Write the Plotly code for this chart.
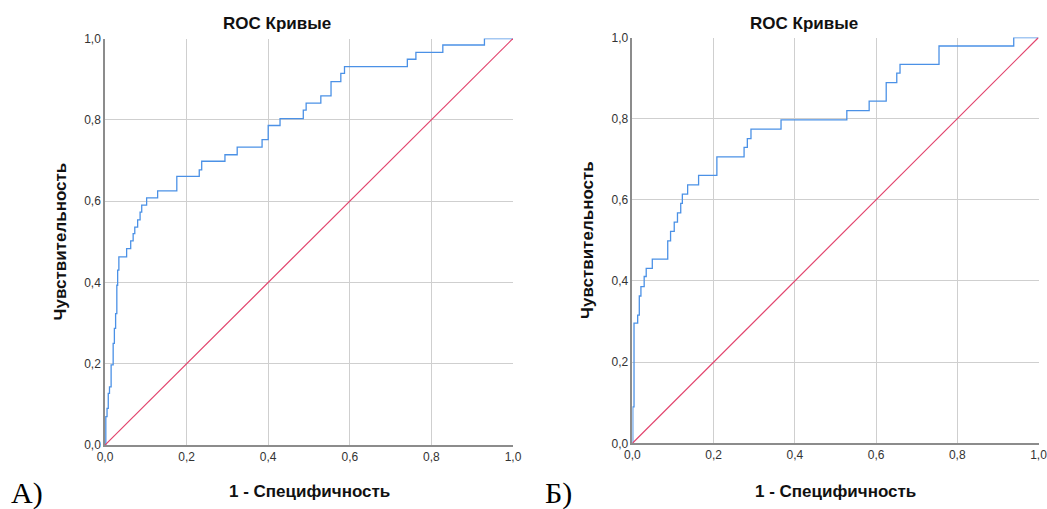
import plotly.graph_objects as go

# ---- data ----
left_fpr = [0.0, 0.002, 0.005, 0.008, 0.011, 0.015, 0.020, 0.023, 0.026, 0.029, 0.031, 0.034,
            0.053, 0.063, 0.069, 0.073, 0.080, 0.086, 0.090, 0.102, 0.129, 0.176, 0.231, 0.237,
            0.294, 0.324, 0.385, 0.400, 0.429, 0.486, 0.493, 0.529, 0.554, 0.578, 0.587, 0.741,
            0.762, 0.828, 0.930, 1.0]
left_tpr = [0.0, 0.070, 0.090, 0.127, 0.143, 0.197, 0.250, 0.287, 0.323, 0.393, 0.430, 0.463,
            0.483, 0.502, 0.520, 0.536, 0.554, 0.573, 0.590, 0.608, 0.625, 0.661, 0.677, 0.698,
            0.714, 0.733, 0.751, 0.786, 0.803, 0.824, 0.841, 0.859, 0.894, 0.914, 0.931, 0.949,
            0.966, 0.984, 1.0, 1.0]

right_fpr = [0.0, 0.001, 0.004, 0.013, 0.017, 0.021, 0.029, 0.034, 0.049, 0.087, 0.094, 0.103,
             0.111, 0.119, 0.123, 0.136, 0.163, 0.208, 0.275, 0.283, 0.292, 0.366, 0.528, 0.583,
             0.625, 0.651, 0.659, 0.755, 0.939, 1.0]
right_tpr = [0.0, 0.090, 0.296, 0.316, 0.363, 0.386, 0.411, 0.431, 0.454, 0.499, 0.522, 0.545,
             0.568, 0.591, 0.614, 0.637, 0.660, 0.706, 0.729, 0.751, 0.774, 0.797, 0.820, 0.843,
             0.889, 0.912, 0.934, 0.979, 1.0, 1.0]

ref_line = [0.0, 1.0]

tick_vals = [0.0, 0.2, 0.4, 0.6, 0.8, 1.0]
tick_text = ["0,0", "0,2", "0,4", "0,6", "0,8", "1,0"]

title_text = "ROC Кривые"
xtitle_text = "1 - Специфичность"
ytitle_text = "Чувствительность"
panel_labels = ["А)", "Б)"]

W, H = 1047, 509
def px(x):
    return x / W
def py(y):
    return 1 - y / H

BLUE = "#4b91e6"
RED = "#e2456e"
FONT = "Liberation Sans, Arial, sans-serif"

fig = go.Figure()
for xa, ya, fx, ty in [("x", "y", left_fpr, left_tpr), ("x2", "y2", right_fpr, right_tpr)]:
    fig.add_trace(go.Scatter(x=fx, y=ty, mode="lines", line=dict(color=BLUE, width=1.3, shape="hv"),
                             xaxis=xa, yaxis=ya, showlegend=False, hoverinfo="skip", cliponaxis=False))
    fig.add_trace(go.Scatter(x=ref_line, y=ref_line, mode="lines", line=dict(color=RED, width=1.2),
                             xaxis=xa, yaxis=ya, showlegend=False, hoverinfo="skip", cliponaxis=False))

axis_common = dict(range=[0, 1], tickvals=tick_vals, ticktext=tick_text, showgrid=True,
                   gridcolor="#cfcfcf", gridwidth=1, zeroline=False, showline=True,
                   linecolor="#8c8c8c", linewidth=1.5, ticks="", fixedrange=True,
                   automargin=False, ticklabeloverflow="allow",
                   tickfont=dict(family=FONT, size=12, color="#333333"))

fig.update_layout(
    width=W, height=H,
    margin=dict(l=0, r=0, t=0, b=0, pad=0, autoexpand=False),
    paper_bgcolor="white", plot_bgcolor="white",
    xaxis=dict(domain=[px(105), px(513)], anchor="y", **axis_common),
    yaxis=dict(domain=[py(445), py(38.5)], anchor="x", **axis_common),
    xaxis2=dict(domain=[px(632.4), px(1038.5)], anchor="y2", **axis_common),
    yaxis2=dict(domain=[py(443.3), py(37.5)], anchor="x2", **axis_common),
)

ann = []
def add(text, x, y, size, bold=True, angle=0, family=FONT, color="#111111"):
    t = f"<b>{text}</b>" if bold else text
    ann.append(dict(text=t, x=px(x), y=py(y), xref="paper", yref="paper", showarrow=False,
                    xanchor="center", yanchor="middle", textangle=angle,
                    font=dict(family=family, size=size, color=color)))

add(title_text, 277, 23, 17)
add(title_text, 803.5, 23, 17)
add(xtitle_text, 309, 491, 17)
add(xtitle_text, 835, 491, 17)
add(ytitle_text, 60, 241.5, 17, angle=-90)
add(ytitle_text, 587, 240, 17, angle=-90)
add(panel_labels[0], 26.5, 493, 30, bold=False, family="Liberation Serif, Times New Roman, serif", color="#000000")
add(panel_labels[1], 558.5, 493, 30, bold=False, family="Liberation Serif, Times New Roman, serif", color="#000000")
fig.update_layout(annotations=ann)

fig.write_html("out.html", config={"displayModeBar": False},
               post_script="document.body.style.margin='0px';document.body.style.overflow='hidden';")
